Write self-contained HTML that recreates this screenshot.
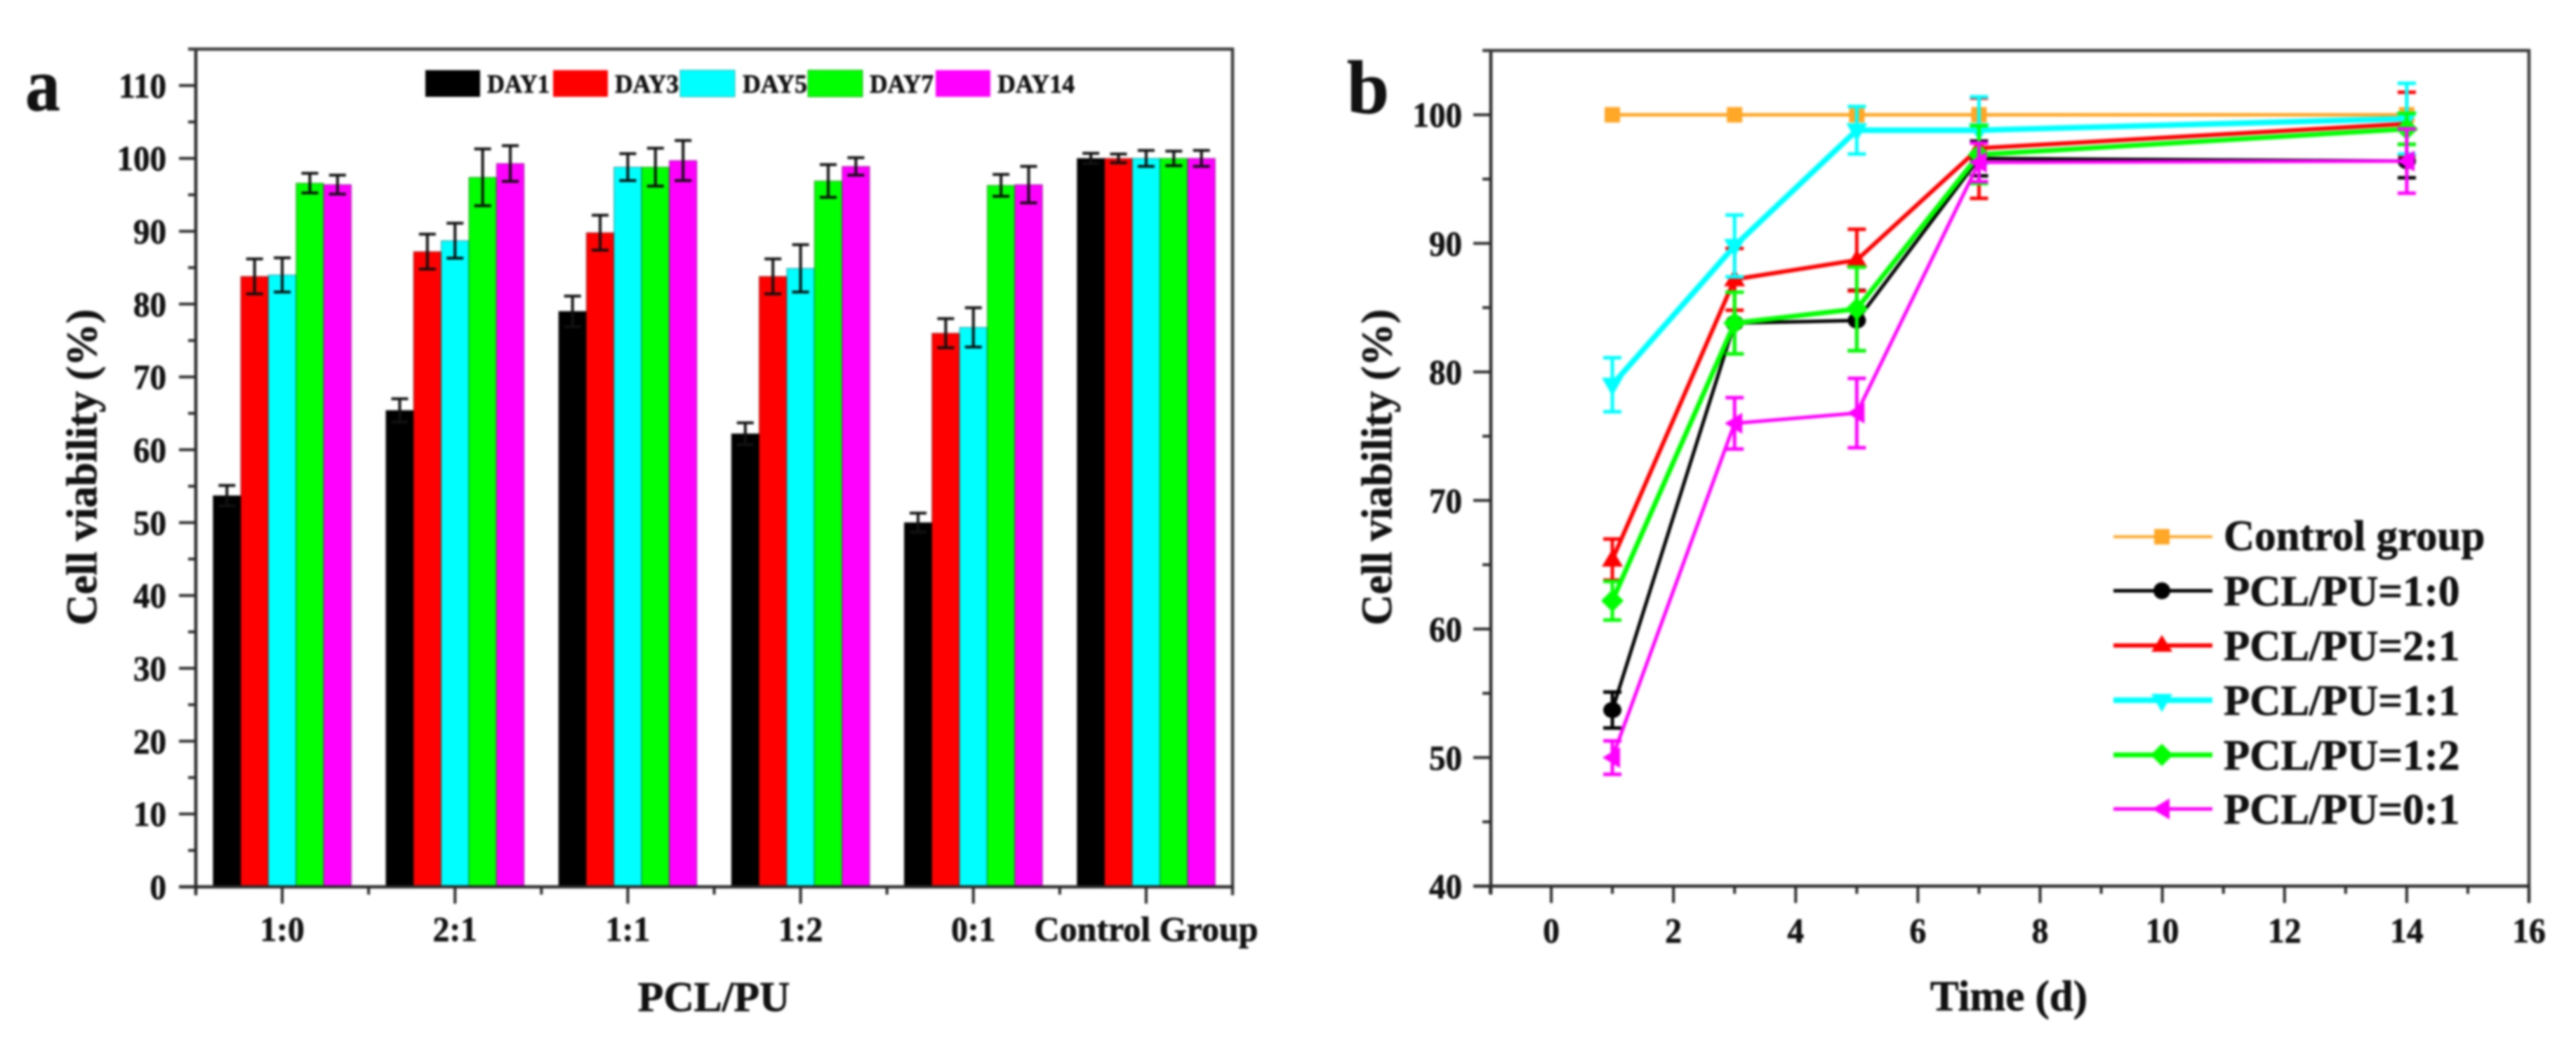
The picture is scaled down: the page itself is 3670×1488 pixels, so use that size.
<!DOCTYPE html>
<html>
<head>
<meta charset="utf-8">
<title>Cell viability charts</title>
<style>
html,body{margin:0;padding:0;background:#fff;width:3670px;height:1488px;overflow:hidden}
svg{display:block;filter:blur(1.5px)}
text{font-family:"Liberation Serif",serif;font-weight:bold;fill:#111;stroke:#111;stroke-width:.7px}
</style>
</head>
<body>
<svg id="figure" xmlns="http://www.w3.org/2000/svg" width="3670" height="1488" viewBox="0 0 3670 1488">
  <g id="panelA"></g>
  <g id="panelB"></g>

  <text transform="translate(36,157) scale(.92,1)" font-size="108">a</text>
  <text transform="translate(1919,161)" font-size="108">b</text>

  <text transform="translate(137,666) rotate(-90)" font-size="61" text-anchor="middle">Cell viability (%)</text>
  <text x="1017" y="1441" font-size="60" text-anchor="middle">PCL/PU</text>
  <text transform="translate(1982,666) rotate(-90)" font-size="61" text-anchor="middle">Cell viability (%)</text>
  <text x="2862" y="1440" font-size="61" text-anchor="middle">Time (d)</text>

  <g>
    <rect x="606" y="100" width="78" height="38" fill="#000"/>
    <text x="694" y="132" font-size="37" textLength="89" lengthAdjust="spacingAndGlyphs">DAY1</text>
    <rect x="788" y="100" width="78" height="38" fill="#f00"/>
    <text x="876" y="132" font-size="37" textLength="91" lengthAdjust="spacingAndGlyphs">DAY3</text>
    <rect x="969" y="100" width="78" height="38" fill="#0ff" stroke="#3aa" stroke-width="1"/>
    <text x="1058" y="132" font-size="37" textLength="92" lengthAdjust="spacingAndGlyphs">DAY5</text>
    <rect x="1151" y="100" width="78" height="38" fill="#0f0" stroke="#2a2" stroke-width="1"/>
    <text x="1239" y="132" font-size="37" textLength="91" lengthAdjust="spacingAndGlyphs">DAY7</text>
    <rect x="1333" y="100" width="78" height="38" fill="#f0f"/>
    <text x="1421" y="132" font-size="37" textLength="110" lengthAdjust="spacingAndGlyphs">DAY14</text>
  </g>

  <g>
    <line x1="3011" x2="3152" y1="765" y2="765" stroke="#ffa726" stroke-width="4"/>
    <rect x="3069" y="754" width="22" height="22" fill="#ffa726"/>
    <text x="3168" y="784" font-size="61">Control group</text>

    <line x1="3011" x2="3152" y1="842" y2="842" stroke="#000" stroke-width="5"/>
    <circle cx="3080" cy="842" r="12" fill="#000"/>
    <text x="3168" y="863" font-size="61">PCL/PU=1:0</text>

    <line x1="3011" x2="3152" y1="920" y2="920" stroke="#f00" stroke-width="6"/>
    <polygon points="3080,905 3095,929 3065,929" fill="#f00"/>
    <text x="3168" y="941" font-size="61">PCL/PU=2:1</text>

    <line x1="3011" x2="3152" y1="998" y2="998" stroke="#0ff" stroke-width="8"/>
    <polygon points="3065,989 3095,989 3080,1015" fill="#0ff"/>
    <text x="3168" y="1019" font-size="61">PCL/PU=1:1</text>

    <line x1="3011" x2="3152" y1="1076" y2="1076" stroke="#0f0" stroke-width="7"/>
    <polygon points="3080,1060 3096,1076 3080,1092 3064,1076" fill="#0f0"/>
    <text x="3168" y="1097" font-size="61">PCL/PU=1:2</text>

    <line x1="3011" x2="3152" y1="1153" y2="1153" stroke="#f0f" stroke-width="5"/>
    <polygon points="3066,1153 3091,1138 3091,1168" fill="#f0f"/>
    <text x="3168" y="1174" font-size="61">PCL/PU=0:1</text>
  </g>
</svg>

<script>
// ---------- Panel A data ----------
const categories = ['1:0', '2:1', '1:1', '1:2', '0:1', 'Control Group'];
const day1Values = [53.7, 65.4, 79.0, 62.2, 50.0, 100];
const day3Values = [83.8, 87.2, 89.8, 83.8, 76.0, 100];
const day5Values = [84.0, 88.7, 98.8, 84.9, 76.8, 100];
const day7Values = [96.6, 97.4, 98.8, 96.9, 96.3, 100];
const day14Values = [96.4, 99.3, 99.7, 98.9, 96.4, 100];
const day1Errors = [1.4, 1.6, 2.1, 1.5, 1.3, 0.7];
const day3Errors = [2.4, 2.4, 2.4, 2.4, 2.0, 0.6];
const day5Errors = [2.35, 2.4, 1.85, 3.25, 2.7, 1.1];
const day7Errors = [1.35, 3.9, 2.6, 2.25, 1.5, 1.0];
const day14Errors = [1.3, 2.45, 2.75, 1.2, 2.5, 1.1];
const yTicksA = [0, 10, 20, 30, 40, 50, 60, 70, 80, 90, 100, 110];

// ---------- Panel B data ----------
const timePoints = [1, 3, 5, 7, 14];
const controlSeries = [100, 100, 100, 100, 100];
const series10 = [53.7, 83.8, 84.0, 96.6, 96.4];
const series21 = [65.4, 87.2, 88.7, 97.4, 99.3];
const series11 = [79.0, 89.8, 98.8, 98.8, 99.7];
const series12 = [62.2, 83.8, 84.9, 96.9, 98.9];
const series01 = [50.0, 76.0, 76.8, 96.3, 96.4];
const errors10 = [1.4, 2.4, 2.35, 1.35, 1.3];
const errors21 = [1.6, 2.4, 2.4, 3.9, 2.45];
const errors11 = [2.1, 2.4, 1.85, 2.6, 2.75];
const errors12 = [1.5, 2.4, 3.25, 2.25, 1.2];
const errors01 = [1.3, 2.0, 2.7, 1.5, 2.5];
const xTicksB = [0, 2, 4, 6, 8, 10, 12, 14, 16];
const yTicksB = [40, 50, 60, 70, 80, 90, 100];

const NS = 'http://www.w3.org/2000/svg';
const panelA = document.getElementById('panelA');
const panelB = document.getElementById('panelB');

function mk(parent, tag, props, name) {
  const el = document.createElementNS(NS, tag);
  for (const k in props) el.setAttribute(k, props[k]);
  
  
  parent.appendChild(el);
  return el;
}
function seg(parent, x1, y1, x2, y2, color, w, name) {
  return mk(parent, 'line', {x1, y1, x2, y2, stroke: color, 'stroke-width': w, 'stroke-linecap': 'butt'}, name);
}
function label(parent, x, y, str, size, sx, name) {
  const t = mk(parent, 'text', {transform: 'translate(' + x + ',' + y + ') scale(' + sx + ',1)', 'font-size': size, 'text-anchor': 'middle'}, name);
  t.textContent = str;
  return t;
}

// ---------- Panel A axes ----------
const aLeft = 279, aRight = 1756, aTop = 70, aBottom = 1264;
const aStep = (aRight - aLeft) / categories.length;
function xA(i) { return aLeft + aStep * (i + 0.5); }
function yA(v) { return aBottom - (v / 115) * (aBottom - aTop); }
const axisColor = '#2a2a2a';

for (let v = 5; v <= 115; v += 10) {
  seg(panelA, aLeft - 11, yA(v), aLeft, yA(v), axisColor, 4, 'y-minor-tick');
}
yTicksA.forEach(function (v) {
  seg(panelA, aLeft - 24, yA(v), aLeft, yA(v), axisColor, 4, 'y-major-tick');
  const s = String(v);
  const t = label(panelA, 237, yA(v) + 17, s, 50, 0.94, 'y-tick-label');
  t.setAttribute('text-anchor', 'end');
});

const daySeries = [
  {name: 'day1', color: '#000', vals: day1Values, errs: day1Errors},
  {name: 'day3', color: '#f00', vals: day3Values, errs: day3Errors},
  {name: 'day5', color: '#0ff', vals: day5Values, errs: day5Errors},
  {name: 'day7', color: '#0f0', vals: day7Values, errs: day7Errors},
  {name: 'day14', color: '#f0f', vals: day14Values, errs: day14Errors}
];
const barW = aStep * 0.8 / daySeries.length;
daySeries.forEach(function (s, si) {
  s.vals.forEach(function (v, i) {
    const x = xA(i) - aStep * 0.4 + barW * si;
    mk(panelA, 'rect', {x: x, y: yA(v), width: barW, height: aBottom - yA(v), fill: s.color, stroke: 'rgba(0,0,0,.3)', 'stroke-width': 1.5}, 'bar-' + s.name + '-' + i);
  });
});
daySeries.forEach(function (s, si) {
  s.vals.forEach(function (v, i) {
    const x = xA(i) - aStep * 0.4 + barW * (si + 0.5);
    const hi = yA(v + s.errs[i]), lo = yA(v - s.errs[i]);
    seg(panelA, x, hi, x, lo, '#111', 4, 'error-stem-' + s.name);
    seg(panelA, x - 12, hi, x + 12, hi, '#111', 4, 'error-cap-top-' + s.name);
    seg(panelA, x - 12, lo, x + 12, lo, '#111', 4, 'error-cap-bottom-' + s.name);
  });
});

seg(panelA, aLeft, aTop - 2, aLeft, aBottom + 12, axisColor, 4.5, 'y-axis-line');
seg(panelA, aRight, aTop - 2, aRight, aBottom + 12, '#3a3a3a', 4.5, 'right-frame-line');
seg(panelA, aLeft - 11, aTop, aRight + 2, aTop, '#3a3a3a', 4.5, 'top-frame-line');
seg(panelA, aLeft - 24, aBottom, aRight + 2, aBottom, axisColor, 4.5, 'x-axis-line');
categories.forEach(function (c, i) {
  seg(panelA, xA(i), aBottom, xA(i), aBottom + 24, axisColor, 4, 'x-major-tick');
  if (i > 0) seg(panelA, xA(i) - aStep / 2, aBottom, xA(i) - aStep / 2, aBottom + 11, axisColor, 4, 'x-minor-tick');
  label(panelA, xA(i), 1341, c, 50, c.length > 3 ? 1 : 0.95, 'x-tick-label');
});

// ---------- Panel B axes ----------
const bLeft = 2123, bRight = 3603, bTop = 72, bBottom = 1263;
function xB(t) { return bLeft + ((t + 1) / 17) * (bRight - bLeft); }
function yB(v) { return bBottom - ((v - 40) / 65) * (bBottom - bTop); }

for (let v = 45; v <= 105; v += 10) {
  seg(panelB, bLeft - 11, yB(v), bLeft, yB(v), axisColor, 4, 'y-minor-tick');
}
yTicksB.forEach(function (v) {
  seg(panelB, bLeft - 24, yB(v), bLeft, yB(v), axisColor, 4, 'y-major-tick');
  const t = label(panelB, 2083, yB(v) + 17, String(v), 50, 0.94, 'y-tick-label');
  t.setAttribute('text-anchor', 'end');
});
seg(panelB, bLeft + 1, bTop - 2, bLeft + 1, bBottom + 12, axisColor, 4.5, 'y-axis-line');
seg(panelB, bRight, bTop - 2, bRight, bBottom + 24, '#3a3a3a', 4.5, 'right-frame-line');
seg(panelB, bLeft - 11, bTop, bRight + 2, bTop, '#3a3a3a', 4.5, 'top-frame-line');
seg(panelB, bLeft - 24, bBottom, bRight + 2, bBottom, axisColor, 4.5, 'x-axis-line');
for (let t = -1; t <= 15; t += 2) {
  seg(panelB, xB(t), bBottom, xB(t), bBottom + 11, axisColor, 4, 'x-minor-tick');
}
xTicksB.forEach(function (t) {
  seg(panelB, xB(t), bBottom, xB(t), bBottom + 24, axisColor, 4, 'x-major-tick');
  label(panelB, xB(t), 1343, String(t), 50, 0.95, 'x-tick-label');
});

// ---------- Panel B series ----------
function drawMarker(kind, x, y, color, name) {
  if (kind === 'square') return mk(panelB, 'rect', {x: x - 11, y: y - 11, width: 22, height: 22, fill: color}, name);
  if (kind === 'circle') return mk(panelB, 'ellipse', {cx: x, cy: y, rx: 13, ry: 11.5, fill: color}, name);
  let pts;
  if (kind === 'up') pts = [[x, y - 15], [x + 15, y + 10], [x - 15, y + 10]];
  if (kind === 'down') pts = [[x - 15, y - 10], [x + 15, y - 10], [x, y + 16]];
  if (kind === 'diamond') pts = [[x, y - 16], [x + 16, y], [x, y + 16], [x - 16, y]];
  if (kind === 'left') pts = [[x - 14, y], [x + 11, y - 15], [x + 11, y + 15]];
  return mk(panelB, 'polygon', {points: pts.map(function (p) { return p.join(','); }).join(' '), fill: color}, name);
}
const lineSeries = [
  {name: 'control', color: '#ffa726', w: 5, kind: 'square', vals: controlSeries, errs: null},
  {name: 'pcl-pu-1-0', color: '#000', w: 5, kind: 'circle', vals: series10, errs: errors10},
  {name: 'pcl-pu-2-1', color: '#f00', w: 6, kind: 'up', vals: series21, errs: errors21},
  {name: 'pcl-pu-1-1', color: '#0ff', w: 8, kind: 'down', vals: series11, errs: errors11},
  {name: 'pcl-pu-1-2', color: '#0f0', w: 7, kind: 'diamond', vals: series12, errs: errors12},
  {name: 'pcl-pu-0-1', color: '#f0f', w: 5, kind: 'left', vals: series01, errs: errors01}
];
lineSeries.forEach(function (s) {
  const pts = s.vals.map(function (v, i) { return xB(timePoints[i]) + ',' + yB(v); }).join(' ');
  mk(panelB, 'polyline', {points: pts, fill: 'none', stroke: s.color, 'stroke-width': s.w, 'stroke-linejoin': 'round'}, 'line-' + s.name);
  s.vals.forEach(function (v, i) {
    const x = xB(timePoints[i]);
    if (s.errs) {
      const hi = yB(v + s.errs[i]), lo = yB(v - s.errs[i]);
      seg(panelB, x, hi, x, lo, s.color, 5, 'error-stem-' + s.name);
      seg(panelB, x - 13, hi, x + 13, hi, s.color, 5, 'error-cap-top-' + s.name);
      seg(panelB, x - 13, lo, x + 13, lo, s.color, 5, 'error-cap-bottom-' + s.name);
    }
    drawMarker(s.kind, x, yB(v), s.color, 'marker-' + s.name);
  });
});
</script>
</body>
</html>
